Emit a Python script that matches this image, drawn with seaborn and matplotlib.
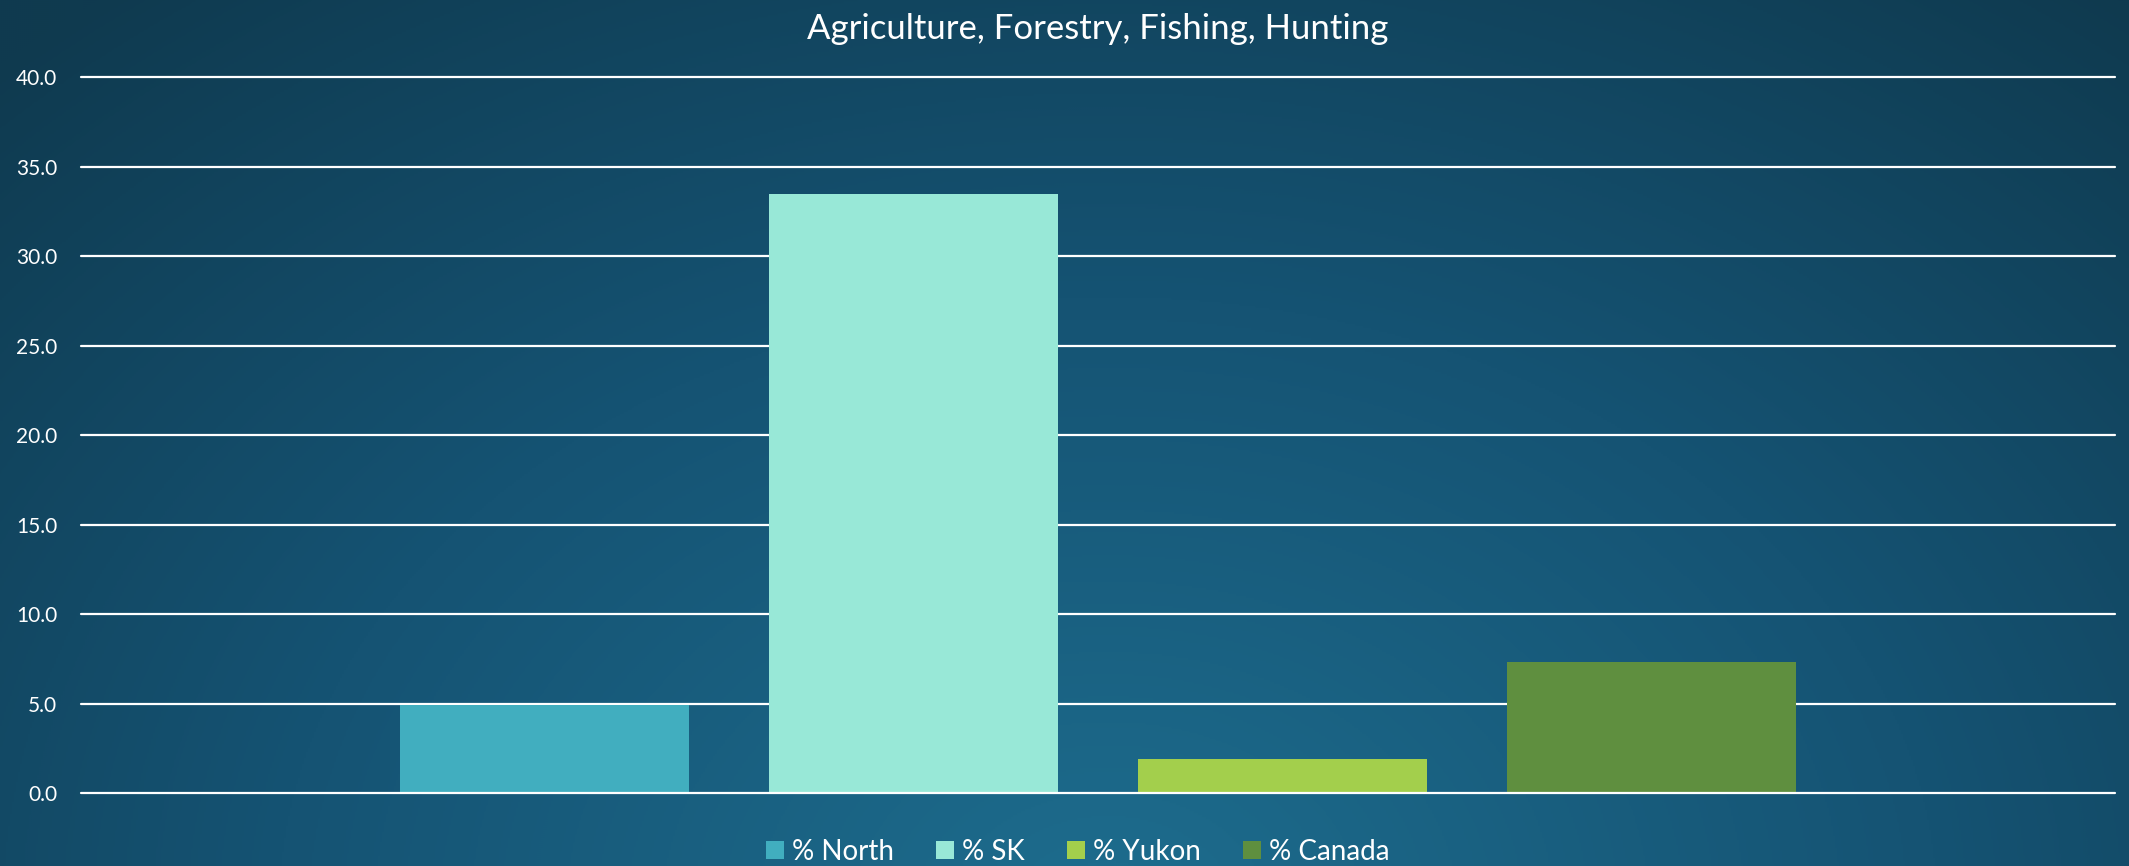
import numpy as np
import pandas as pd
import matplotlib.pyplot as plt
import seaborn as sns
from matplotlib.colors import LinearSegmentedColormap

# data
series = ["% North", "% SK", "% Yukon", "% Canada"]
values = [4.9, 33.5, 1.9, 7.3]
colors = ["#41AEBF", "#98E8D7", "#A3CF4C", "#5F8F3F"]
yticks = [0, 5, 10, 15, 20, 25, 30, 35, 40]

df = pd.DataFrame({"cat": [""] * len(series), "series": series, "value": values})

sns.set_theme(style="white")
plt.rcParams["font.family"] = ["Lato", "DejaVu Sans"]

fig = plt.figure(figsize=(21.29, 8.66), dpi=100)

# radial gradient background
bg = fig.add_axes([0, 0, 1, 1], zorder=0)
h, w = 433, 1065
yy, xx = np.mgrid[0:h, 0:w]
cx, cy = 0.52 * w, 1.05 * h
d = np.sqrt(((xx - cx) / w) ** 2 + ((yy - cy) / h * 0.55) ** 2)
d = np.clip(d / 0.75, 0, 1)
cmap = LinearSegmentedColormap.from_list("bg", ["#1d6b8c", "#155373", "#0f3a4f"])
bg.imshow(d, cmap=cmap, aspect="auto", extent=[0, 1, 0, 1], origin="upper")
bg.axis("off")

ax = fig.add_axes([81 / 2129, 1 - 793 / 866, (2115 - 81) / 2129, (793 - 77.4) / 866], zorder=1)
ax.patch.set_alpha(0)

sns.barplot(data=df, x="cat", y="value", hue="series", palette=colors,
            width=0.726, gap=0.217, saturation=1, ax=ax, zorder=3, legend=True,
            linewidth=0, edgecolor="none")

ax.set_ylim(0, 40)
ax.set_xlim(-0.5, 0.5)
ax.set_yticks(yticks)
ax.set_yticklabels([f"{t:.1f}" for t in yticks], color="white", fontsize=15)
ax.set_xticks([])
ax.set_xlabel("")
ax.set_ylabel("")
for t in yticks:
    ax.axhline(t, color="white", lw=1.6, zorder=2 if t else 4, clip_on=False)
for s in ax.spines.values():
    s.set_visible(False)
ax.tick_params(axis="y", length=0, pad=17)

ax.set_title("Agriculture, Forestry, Fishing, Hunting", color="white",
             fontsize=25, y=1.0, pad=28)

leg = ax.legend(loc="lower center", bbox_to_anchor=(0.49, -0.135), ncol=4,
                frameon=False, fontsize=20, handlelength=0.65, handleheight=0.65,
                handletextpad=0.3, columnspacing=1.5)
for txt in leg.get_texts():
    txt.set_color("white")
for hnd in leg.legend_handles:
    hnd.set_edgecolor("none")

fig.savefig("out.png", dpi=100)
